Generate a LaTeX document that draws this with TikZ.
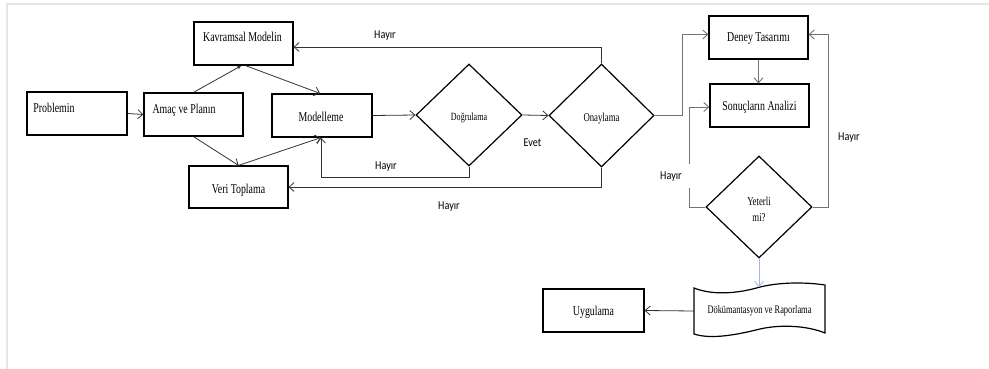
\documentclass[tikz,border=0pt]{standalone}
\usepackage{fontspec}
\setmainfont{Liberation Serif}[FakeStretch=0.73]
\newfontfamily\notefont{Carlito}[FakeStretch=0.85]
\usetikzlibrary{shapes.geometric,arrows.meta}

\begin{document}
\begin{tikzpicture}[x=1pt,y=-1pt,
  box/.style={draw=black,line width=1.2pt,minimum width=99pt,minimum height=43pt,inner sep=0pt},
  boxtext/.style={font=\fontsize{13.5}{16}\selectfont,text height=0.69em,text depth=0.22em,inner sep=0pt},
  decision/.style={diamond,draw=black,line width=1.2pt,minimum width=106pt,minimum height=102pt,inner sep=0pt},
  note/.style={font=\notefont\fontsize{12}{14}\selectfont,inner sep=1pt},
  tip/.style={-{Straight Barb[length=5pt,width=9pt]}},
  conn/.style={draw=black!80,line width=0.8pt},
  connR/.style={draw=black!55,line width=0.9pt},
  connB/.style={draw=cyan!40!blue!35,line width=0.9pt}]

% page area
\useasboundingbox[fill=white] (0,0) rectangle (989,369);
\draw[gray!20,line width=1.5pt] (7,369) -- (7,4) -- (989,4);

% process boxes
\node[box,minimum width=100pt,label={[boxtext,xshift=-23pt,yshift=3.5pt]center:Problemin}] (prob) at (77,113.5) {};
\node[box,label={[boxtext,xshift=-9.5pt,yshift=3.5pt]center:Amaç ve Planın}] (amac) at (193.5,114.5) {};
\node[box,label={[boxtext,xshift=-1pt,yshift=4.2pt]center:Kavramsal Modelin}] (kav) at (243.5,43.5) {};
\node[box,minimum width=100pt,label={[boxtext,xshift=-1pt,yshift=-3.3pt]center:Modelleme}] (model) at (322,115.5) {};
\node[box,minimum height=42pt,label={[boxtext,yshift=-4.3pt]center:Veri Toplama}] (veri) at (238.5,187) {};
\node[box,label={[boxtext,yshift=-1.8pt]center:Deney Tasarımı}] (deney) at (758.5,37.5) {};
\node[box,label={[boxtext,yshift=-2.8pt]center:Sonuçların Analizi}] (sonuc) at (759.5,105.5) {};
\node[box,minimum width=101pt,label={[boxtext,yshift=-2.3pt]center:Uygulama}] (uyg) at (593.5,310.5) {};

% decisions
\node[decision,label={[boxtext,font=\fontsize{11}{13}\selectfont,yshift=-3.5pt]center:Doğrulama}] (dog) at (469,115) {};
\node[decision,minimum width=105pt,minimum height=103pt,label={[boxtext,font=\fontsize{12}{14}\selectfont,yshift=-3.5pt]center:Onaylama}] (ona) at (601.5,115.5) {};
\node[decision,label={[font=\fontsize{12}{16}\selectfont,align=center,inner sep=0pt,yshift=-2pt]center:Yeterli\\mi?}] (yet) at (759,207) {};

% document (punched tape outline)
\node[font=\fontsize{11.5}{14}\selectfont,minimum width=131pt,minimum height=46pt,inner sep=0pt,yshift=-1.5pt] (dok) at (759.5,309.5) {Dökümantasyon ve Raporlama};
\draw[black,line width=1.2pt]
  (694,288) .. controls (714,296) and (740,293) .. (760,287)
            .. controls (785,281) and (812,283) .. (825,285)
  -- (825,333)
            .. controls (808,326) and (782,324) .. (760,329)
            .. controls (740,334) and (712,340) .. (694,334) -- cycle;
\coordinate (dokin) at (759,287);

% connectors, left part
\draw[conn,tip] (prob.east) -- (amac.west);
\draw[conn,-{Latex[length=4pt,width=4pt]}] (amac.north) -- ([xshift=-2pt]kav.south);
\draw[conn,tip] ([xshift=2pt]kav.south) -- ([xshift=-2pt]model.north);
\draw[conn,tip] (amac.south) -- (veri.north);
\draw[conn,tip] (veri.north) -- ([xshift=-1pt]model.south);
\draw[conn,tip] (model.east) -- (dog.west);
\draw[conn,tip] (dog.east) -- (ona.west);
\draw[conn,tip] (dog.south) -- ++(0,11) -| ([xshift=-1pt]model.south);
\draw[conn,tip] (ona.south) |- (veri.east);
\draw[conn,tip] (ona.north) |- ([yshift=-3.5pt]kav.east);

% connectors, right part
\draw[connR,tip] (ona.east) -- ++(28,0) |- ([yshift=3pt]deney.west);
\draw[connR,tip] (deney.south) -- (deney.south |- sonuc.north);
\coordinate (gapA) at (689,188);
\coordinate (gapB) at (689,164);
\draw[connR] (yet.west) -| (gapA);
\draw[connR,tip] (gapB) |- ([yshift=-1.5pt]sonuc.west);
\draw[connR,tip] (yet.east) -- ++(16,0) |- ([yshift=3pt]deney.east);
\draw[connB,tip] (yet.south) -- (dokin);
\draw[conn,tip] (dok.west) -- (uyg.east);

% branch labels
\node[note] (h1) at (385,36) {Hayır};
\node[note] (h2) at (386,167) {Hayır};
\node[note] (h3) at (449,207) {Hayır};
\node[note] (ev) at (532.5,143) {Evet};
\node[note] (h4) at (671,177) {Hayır};
\node[note] (h5) at (849,138) {Hayır};
\end{tikzpicture}
\end{document}
